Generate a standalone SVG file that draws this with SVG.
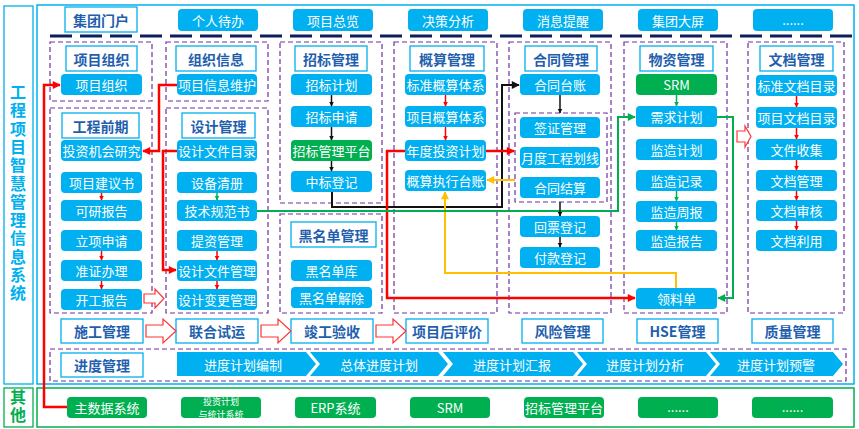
<svg xmlns="http://www.w3.org/2000/svg" width="859" height="429" viewBox="0 0 859 429">
<style>
.t{font-family:"Noto Sans CJK SC","Noto Sans",sans-serif;font-size:13px;fill:#fff;text-anchor:middle;dominant-baseline:central}
.th{font-family:"Noto Sans CJK SC","Noto Sans",sans-serif;font-size:14px;font-weight:bold;fill:#1f5fae;text-anchor:middle;dominant-baseline:central}
.it{fill:#00b0f0}
.gr{fill:#00b050}
.hd{fill:#fff;stroke:#00b0f0;stroke-width:1.3}
.grp{fill:none;stroke:#7030a0;stroke-width:1.2;stroke-dasharray:5 3}
.ha{fill:#fff;stroke:#f33;stroke-width:1.2}
.c{fill:none;stroke-linejoin:miter}
.cr{stroke:#f00;stroke-width:2.5}
.ck{stroke:#111;stroke-width:2}
.cg{stroke:#00b050;stroke-width:2}
.cy{stroke:#ffc000;stroke-width:2}
.sr{stroke:#f00;stroke-width:1.5}
.sk{stroke:#111;stroke-width:1.5}
.sg{stroke:#00b050;stroke-width:1.5}
.vt{font-family:"Noto Sans CJK SC",sans-serif;font-size:16px;font-weight:bold;writing-mode:vertical-rl;text-anchor:start}
</style>
<defs>
<marker id="aR" viewBox="0 0 10 10" refX="9" refY="5" markerWidth="9" markerHeight="8" markerUnits="userSpaceOnUse" orient="auto"><path d="M0,0L10,5L0,10z" fill="#f00"/></marker>
<marker id="aK" viewBox="0 0 10 10" refX="9" refY="5" markerWidth="9" markerHeight="8" markerUnits="userSpaceOnUse" orient="auto"><path d="M0,0L10,5L0,10z" fill="#111"/></marker>
<marker id="aG" viewBox="0 0 10 10" refX="9" refY="5" markerWidth="9" markerHeight="8" markerUnits="userSpaceOnUse" orient="auto"><path d="M0,0L10,5L0,10z" fill="#00b050"/></marker>
<marker id="aY" viewBox="0 0 10 10" refX="9" refY="5" markerWidth="9" markerHeight="8" markerUnits="userSpaceOnUse" orient="auto"><path d="M0,0L10,5L0,10z" fill="#ffc000"/></marker>
<marker id="sR" viewBox="0 0 10 10" refX="9" refY="5" markerWidth="5" markerHeight="6" markerUnits="userSpaceOnUse" orient="auto"><path d="M0,0L10,5L0,10z" fill="#f00"/></marker>
<marker id="sK" viewBox="0 0 10 10" refX="9" refY="5" markerWidth="5" markerHeight="6" markerUnits="userSpaceOnUse" orient="auto"><path d="M0,0L10,5L0,10z" fill="#111"/></marker>
<marker id="sG" viewBox="0 0 10 10" refX="9" refY="5" markerWidth="5" markerHeight="6" markerUnits="userSpaceOnUse" orient="auto"><path d="M0,0L10,5L0,10z" fill="#00b050"/></marker>
</defs>
<rect width="859" height="429" fill="#fff"/>

<g id="frames">
<rect x="4" y="6" width="29" height="378" fill="none" stroke="#00b0f0" stroke-width="1.3"/>
<rect x="37" y="5" width="817" height="379" fill="none" stroke="#00b0f0" stroke-width="1.5"/>
<rect x="4" y="388" width="29" height="39" fill="none" stroke="#00b050" stroke-width="1.3"/>
<rect x="37" y="388" width="817" height="39" fill="none" stroke="#00b050" stroke-width="1.5"/>
<line x1="50" y1="36" x2="852" y2="36" stroke="#0c1f5c" stroke-width="3" stroke-dasharray="22 8"/>
</g>

<g id="title">
<text class="vt" x="18" y="84" fill="#00b0f0" letter-spacing="2.3">工程项目智慧管理信息系统</text>
<text class="vt" x="18" y="389" fill="#00b050" letter-spacing="2">其他</text>
</g>

<g id="top-row">
<g id="n-jtmh"><rect class="hd" x="65" y="7" width="72" height="25"/><text class="th" x="101" y="19.5">集团门户</text></g>
<g id="n-grdb"><rect class="it" x="178" y="9" width="80" height="22" rx="4"/><text class="t" x="218" y="20">个人待办</text></g>
<g id="n-xmzl"><rect class="it" x="293" y="9" width="80" height="22" rx="4"/><text class="t" x="333" y="20">项目总览</text></g>
<g id="n-jcfx"><rect class="it" x="408" y="9" width="80" height="22" rx="4"/><text class="t" x="448" y="20">决策分析</text></g>
<g id="n-xxtx"><rect class="it" x="523" y="9" width="80" height="22" rx="4"/><text class="t" x="563" y="20">消息提醒</text></g>
<g id="n-jtdp"><rect class="it" x="638" y="9" width="80" height="22" rx="4"/><text class="t" x="678" y="20">集团大屏</text></g>
<g id="n-more1"><rect class="it" x="753" y="9" width="80" height="22" rx="4"/><text class="t" x="793" y="19">......</text></g>
</g>

<g id="groups">
<rect class="grp" x="50" y="42" width="102" height="59"/>
<rect class="grp" x="50" y="108" width="102" height="205"/>
<rect class="grp" x="166" y="42" width="102" height="59"/>
<rect class="grp" x="166" y="108" width="102" height="205"/>
<rect class="grp" x="280" y="42" width="102" height="161"/>
<rect class="grp" x="280" y="214" width="102" height="99"/>
<rect class="grp" x="394" y="42" width="103" height="271"/>
<rect class="grp" x="509" y="42" width="102" height="271"/>
<rect class="grp" x="515" y="113" width="92" height="89"/>
<rect class="grp" x="624" y="42" width="103" height="271"/>
<rect class="grp" x="748" y="42" width="96" height="271"/>
<rect class="grp" x="50" y="349" width="796" height="32"/>
</g>

<g id="headers">
<g id="h-xmzz"><rect class="hd" x="66" y="46" width="71" height="25"/><text class="th" x="101.5" y="58.5">项目组织</text></g>
<g id="h-zzxx"><rect class="hd" x="176" y="46" width="80" height="25"/><text class="th" x="216" y="58.5">组织信息</text></g>
<g id="h-zbgl"><rect class="hd" x="295" y="46" width="72" height="25"/><text class="th" x="331" y="58.5">招标管理</text></g>
<g id="h-gsgl"><rect class="hd" x="410" y="46" width="74" height="25"/><text class="th" x="447" y="58.5">概算管理</text></g>
<g id="h-htgl"><rect class="hd" x="525" y="46" width="72" height="25"/><text class="th" x="561" y="58.5">合同管理</text></g>
<g id="h-wzgl"><rect class="hd" x="640" y="46" width="73" height="25"/><text class="th" x="676.5" y="58.5">物资管理</text></g>
<g id="h-wdgl"><rect class="hd" x="760" y="46" width="73" height="25"/><text class="th" x="796.5" y="58.5">文档管理</text></g>
<g id="h-gcqq"><rect class="hd" x="62" y="113" width="77" height="25"/><text class="th" x="100.5" y="125.5">工程前期</text></g>
<g id="h-sjgl"><rect class="hd" x="182" y="113" width="73" height="25"/><text class="th" x="218.5" y="125.5">设计管理</text></g>
<g id="h-hmd"><rect class="hd" x="291" y="222" width="85" height="25"/><text class="th" x="333.5" y="234.5">黑名单管理</text></g>
</g>

<g id="col1">
<g id="n-c1-1"><rect class="it" x="61" y="74" width="81" height="21" rx="4"/><text class="t" x="101.5" y="84.5">项目组织</text></g>
<g id="n-c1-2"><rect class="it" x="61" y="140" width="81" height="21" rx="4"/><text class="t" x="101.5" y="150.5">投资机会研究</text></g>
<g id="n-c1-3"><rect class="it" x="61" y="172" width="81" height="21" rx="4"/><text class="t" x="101.5" y="182.5">项目建议书</text></g>
<g id="n-c1-4"><rect class="it" x="61" y="200" width="81" height="21" rx="4"/><text class="t" x="101.5" y="210.5">可研报告</text></g>
<g id="n-c1-5"><rect class="it" x="61" y="230" width="81" height="21" rx="4"/><text class="t" x="101.5" y="240.5">立项申请</text></g>
<g id="n-c1-6"><rect class="it" x="61" y="260" width="81" height="21" rx="4"/><text class="t" x="101.5" y="270.5">准证办理</text></g>
<g id="n-c1-7"><rect class="it" x="61" y="289" width="81" height="21" rx="4"/><text class="t" x="101.5" y="299.5">开工报告</text></g>
</g>
<g id="col2">
<g id="n-c2-1"><rect class="it" x="177" y="74" width="80" height="21" rx="4"/><text class="t" x="217" y="84.5">项目信息维护</text></g>
<g id="n-c2-2"><rect class="it" x="177" y="140" width="80" height="21" rx="4"/><text class="t" x="217" y="150.5">设计文件目录</text></g>
<g id="n-c2-3"><rect class="it" x="177" y="172" width="80" height="21" rx="4"/><text class="t" x="217" y="182.5">设备清册</text></g>
<g id="n-c2-4"><rect class="it" x="177" y="200" width="80" height="21" rx="4"/><text class="t" x="217" y="210.5">技术规范书</text></g>
<g id="n-c2-5"><rect class="it" x="177" y="230" width="80" height="21" rx="4"/><text class="t" x="217" y="240.5">提资管理</text></g>
<g id="n-c2-6"><rect class="it" x="177" y="260" width="80" height="21" rx="4"/><text class="t" x="217" y="270.5">设计文件管理</text></g>
<g id="n-c2-7"><rect class="it" x="177" y="289" width="80" height="21" rx="4"/><text class="t" x="217" y="299.5">设计变更管理</text></g>
</g>
<g id="col3">
<g id="n-c3-1"><rect class="it" x="291" y="74" width="81" height="21" rx="4"/><text class="t" x="331.5" y="84.5">招标计划</text></g>
<g id="n-c3-2"><rect class="it" x="291" y="106" width="81" height="21" rx="4"/><text class="t" x="331.5" y="116.5">招标申请</text></g>
<g id="n-c3-3"><rect class="gr" x="291" y="140" width="81" height="21" rx="4"/><text class="t" x="331.5" y="150.5">招标管理平台</text></g>
<g id="n-c3-4"><rect class="it" x="291" y="171" width="81" height="21" rx="4"/><text class="t" x="331.5" y="181.5">中标登记</text></g>
<g id="n-c3-5"><rect class="it" x="291" y="260" width="81" height="21" rx="4"/><text class="t" x="331.5" y="270.5">黑名单库</text></g>
<g id="n-c3-6"><rect class="it" x="291" y="287" width="81" height="21" rx="4"/><text class="t" x="331.5" y="297.5">黑名单解除</text></g>
</g>
<g id="col4">
<g id="n-c4-1"><rect class="it" x="405" y="74" width="81" height="21" rx="4"/><text class="t" x="445.5" y="84.5">标准概算体系</text></g>
<g id="n-c4-2"><rect class="it" x="405" y="106" width="81" height="21" rx="4"/><text class="t" x="445.5" y="116.5">项目概算体系</text></g>
<g id="n-c4-3"><rect class="it" x="405" y="140" width="81" height="21" rx="4"/><text class="t" x="445.5" y="150.5">年度投资计划</text></g>
<g id="n-c4-4"><rect class="it" x="405" y="170" width="81" height="21" rx="4"/><text class="t" x="445.5" y="180.5">概算执行台账</text></g>
</g>
<g id="col5">
<g id="n-c5-1"><rect class="it" x="520" y="74" width="80" height="21" rx="4"/><text class="t" x="560" y="84.5">合同台账</text></g>
<g id="n-c5-2"><rect class="it" x="520" y="117" width="80" height="21" rx="4"/><text class="t" x="560" y="127.5">签证管理</text></g>
<g id="n-c5-3"><rect class="it" x="520" y="147" width="80" height="21" rx="4"/><text class="t" x="560" y="157.5">月度工程划线</text></g>
<g id="n-c5-4"><rect class="it" x="520" y="177" width="80" height="21" rx="4"/><text class="t" x="560" y="187.5">合同结算</text></g>
<g id="n-c5-5"><rect class="it" x="520" y="216" width="80" height="21" rx="4"/><text class="t" x="560" y="226.5">回票登记</text></g>
<g id="n-c5-6"><rect class="it" x="520" y="247" width="80" height="21" rx="4"/><text class="t" x="560" y="257.5">付款登记</text></g>
</g>
<g id="col6">
<g id="n-c6-1"><rect class="gr" x="636" y="74" width="81" height="21" rx="4"/><text class="t" x="676.5" y="84.5">SRM</text></g>
<g id="n-c6-2"><rect class="it" x="636" y="106" width="81" height="21" rx="4"/><text class="t" x="676.5" y="116.5">需求计划</text></g>
<g id="n-c6-3"><rect class="it" x="636" y="139" width="81" height="21" rx="4"/><text class="t" x="676.5" y="149.5">监造计划</text></g>
<g id="n-c6-4"><rect class="it" x="636" y="170" width="81" height="21" rx="4"/><text class="t" x="676.5" y="180.5">监造记录</text></g>
<g id="n-c6-5"><rect class="it" x="636" y="201" width="81" height="21" rx="4"/><text class="t" x="676.5" y="211.5">监造周报</text></g>
<g id="n-c6-6"><rect class="it" x="636" y="230" width="81" height="21" rx="4"/><text class="t" x="676.5" y="240.5">监造报告</text></g>
<g id="n-c6-7"><rect class="it" x="636" y="288" width="81" height="21" rx="4"/><text class="t" x="676.5" y="298.5">领料单</text></g>
</g>
<g id="col7">
<g id="n-c7-1"><rect class="it" x="756" y="75" width="81" height="21" rx="4"/><text class="t" x="796.5" y="85.5">标准文档目录</text></g>
<g id="n-c7-2"><rect class="it" x="756" y="107" width="81" height="21" rx="4"/><text class="t" x="796.5" y="117.5">项目文档目录</text></g>
<g id="n-c7-3"><rect class="it" x="756" y="139" width="81" height="21" rx="4"/><text class="t" x="796.5" y="149.5">文件收集</text></g>
<g id="n-c7-4"><rect class="it" x="756" y="170" width="81" height="21" rx="4"/><text class="t" x="796.5" y="180.5">文档管理</text></g>
<g id="n-c7-5"><rect class="it" x="756" y="200" width="81" height="21" rx="4"/><text class="t" x="796.5" y="210.5">文档审核</text></g>
<g id="n-c7-6"><rect class="it" x="756" y="230" width="81" height="21" rx="4"/><text class="t" x="796.5" y="240.5">文档利用</text></g>
</g>

<g id="phase-row">
<g id="n-sggl"><rect class="hd" x="61" y="319" width="82" height="24"/><text class="th" x="102" y="331">施工管理</text></g>
<g id="n-lhsy"><rect class="hd" x="176" y="319" width="82" height="24"/><text class="th" x="217" y="331">联合试运</text></g>
<g id="n-jgys"><rect class="hd" x="291" y="319" width="82" height="24"/><text class="th" x="332" y="331">竣工验收</text></g>
<g id="n-xmhpj"><rect class="hd" x="406" y="319" width="82" height="24"/><text class="th" x="447" y="331">项目后评价</text></g>
<g id="n-fxgl"><rect class="hd" x="522" y="319" width="81" height="24"/><text class="th" x="562.5" y="331">风险管理</text></g>
<g id="n-hse"><rect class="hd" x="637" y="319" width="81" height="24"/><text class="th" x="677.5" y="331">HSE管理</text></g>
<g id="n-zlgl"><rect class="hd" x="752" y="319" width="81" height="24"/><text class="th" x="792.5" y="331">质量管理</text></g>
<path class="ha" d="M146,325H163V319L176,331L163,343V337H146Z"/>
<path class="ha" d="M261,325H278V319L291,331L278,343V337H261Z"/>
<path class="ha" d="M376,325H393V319L406,331L393,343V337H376Z"/>
<path class="ha" d="M144,294H155V289L164,298.5L155,308V303H144Z"/>
<path class="ha" d="M737,131H745V126L751,136.5L745,147V142H737Z"/>
</g>

<g id="progress">
<g id="n-jdgl"><rect class="hd" x="61" y="353" width="82" height="24"/><text class="th" x="102" y="365">进度管理</text></g>
<g id="n-p1"><polygon class="it" points="177,352 306,352 316,364 306,376 177,376"/><text class="t" x="243" y="364">进度计划编制</text></g>
<g id="n-p2"><polygon class="it" points="310,352 438,352 448,364 438,376 310,376 320,364"/><text class="t" x="379" y="364">总体进度计划</text></g>
<g id="n-p3"><polygon class="it" points="443,352 573,352 583,364 573,376 443,376 453,364"/><text class="t" x="512" y="364">进度计划汇报</text></g>
<g id="n-p4"><polygon class="it" points="577,352 706,352 716,364 706,376 577,376 587,364"/><text class="t" x="645" y="364">进度计划分析</text></g>
<g id="n-p5"><polygon class="it" points="710,352 833,352 843,364 833,376 710,376 720,364"/><text class="t" x="776" y="364">进度计划预警</text></g>
</g>

<g id="others">
<g id="n-zsj"><rect class="gr" x="67" y="397" width="80" height="21" rx="4"/><text class="t" x="107" y="407.5">主数据系统</text></g>
<g id="n-tzjh"><rect class="gr" x="181" y="397" width="80" height="21" rx="4"/><text class="t" x="221" y="401" style="font-size:9px">投资计划</text><text class="t" x="221" y="414" style="font-size:9px">与统计系统</text></g>
<g id="n-erp"><rect class="gr" x="295" y="397" width="81" height="21" rx="4"/><text class="t" x="335.5" y="407.5">ERP系统</text></g>
<g id="n-srm2"><rect class="gr" x="410" y="397" width="80" height="21" rx="4"/><text class="t" x="450" y="407.5">SRM</text></g>
<g id="n-zbpt"><rect class="gr" x="524" y="397" width="80" height="21" rx="4"/><text class="t" x="564" y="407.5">招标管理平台</text></g>
<g id="n-more2"><rect class="gr" x="638" y="397" width="80" height="21" rx="4"/><text class="t" x="678" y="406.5">......</text></g>
<g id="n-more3"><rect class="gr" x="752" y="397" width="81" height="21" rx="4"/><text class="t" x="792.5" y="406.5">......</text></g>
</g>

<g id="connectors">
<path class="c cr" d="M67,407H44V85H60" marker-end="url(#aR)"/>
<path class="c cr" d="M177,85H159V151H143" marker-end="url(#aR)"/>
<path class="c cr" d="M177,151H163V270H176" marker-end="url(#aR)"/>
<path class="c ck" d="M332,192V207H502V85H519" marker-end="url(#aK)"/>
<path class="c cr" d="M486,151H514" marker-end="url(#aR)"/>
<path class="c cr" d="M405,151H387V298H635" marker-end="url(#aR)"/>
<path class="c cy" d="M515,180H487" marker-end="url(#aY)"/>
<path class="c cy" d="M676,288V273H445V192" marker-end="url(#aY)"/>
<path class="c cg" d="M257,211H618V117H635" marker-end="url(#aG)"/>
<path class="c cg" d="M717,117H733V298H718" marker-end="url(#aG)"/>
<line class="sr" x1="101.5" y1="193" x2="101.5" y2="200" marker-end="url(#sR)"/>
<line class="sr" x1="101.5" y1="251" x2="101.5" y2="260" marker-end="url(#sR)"/>
<line class="sr" x1="101.5" y1="281" x2="101.5" y2="289" marker-end="url(#sR)"/>
<line class="sg" x1="217" y1="193" x2="217" y2="200" marker-end="url(#sG)"/>
<line class="sr" x1="217" y1="251" x2="217" y2="260" marker-end="url(#sR)"/>
<line class="sr" x1="217" y1="281" x2="217" y2="289" marker-end="url(#sR)"/>
<line class="sk" x1="331.5" y1="95" x2="331.5" y2="106" marker-end="url(#sK)"/>
<line class="sk" x1="331.5" y1="127" x2="331.5" y2="140" marker-end="url(#sK)"/>
<line class="sk" x1="331.5" y1="161" x2="331.5" y2="171" marker-end="url(#sK)"/>
<line class="sr" x1="445.5" y1="95" x2="445.5" y2="106" marker-end="url(#sR)"/>
<line class="sr" x1="445.5" y1="127" x2="445.5" y2="140" marker-end="url(#sR)"/>
<line class="sk" x1="560" y1="95" x2="560" y2="113" marker-end="url(#sK)"/>
<line class="sk" x1="560" y1="202" x2="560" y2="216" marker-end="url(#sK)"/>
<line class="sk" x1="560" y1="237" x2="560" y2="247" marker-end="url(#sK)"/>
<line class="sg" x1="676.5" y1="95" x2="676.5" y2="106" marker-end="url(#sG)"/>
<line class="sg" x1="676.5" y1="191" x2="676.5" y2="201" marker-end="url(#sG)"/>
<line class="sg" x1="676.5" y1="222" x2="676.5" y2="230" marker-end="url(#sG)"/>
<line class="sr" x1="796.5" y1="96" x2="796.5" y2="107" marker-end="url(#sR)"/>
<line class="sr" x1="796.5" y1="128" x2="796.5" y2="139" marker-end="url(#sR)"/>
<line class="sr" x1="796.5" y1="160" x2="796.5" y2="170" marker-end="url(#sR)"/>
<line class="sr" x1="796.5" y1="191" x2="796.5" y2="200" marker-end="url(#sR)"/>
<line class="sr" x1="796.5" y1="221" x2="796.5" y2="230" marker-end="url(#sR)"/>
</g>
</svg>
